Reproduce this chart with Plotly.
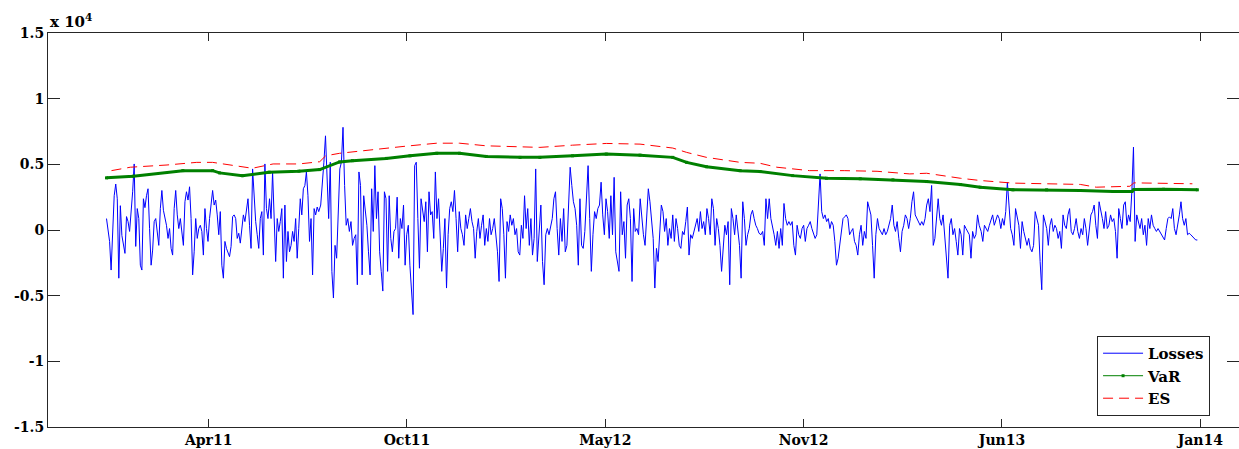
import pandas as pd
import plotly.graph_objects as go

# Daily portfolio losses, in blocks of consecutive trading periods
losses_dec10_jul11 = [
    870, -110, -870, -3050, 110, 2610, 3500, 2380, -3670, 1850, -420, -1170, -1780, 1020, 640, -110,
    1150, 2910, 5030, -1250, 1630, 870, -2680, -3050, 2380, 1700, 2610, 3140, 110, -2680, -1530, 640,
    870, -110, -1170, 1630, 3010, 1500, 870, 360, -640, 110, -1400, -1910, 1630, 3010, 1150, 110,
    870, -110, -1170, 2150, 2910, 2280, 3290, 870, -3420, -1660, 870, -640, 110, 360, -110, -1910,
    1630, 110, -870, 870, 2150, 3010, 1900, 2280, 1150, -360, 1400, -2680, -3670, -870, -1400, -1660,
    -2030, -1250, 1020, 1150, 870, -640, -250, -1000, 110, 1150, 640, 1400, 2380, 360, -1400, 4650,
    2380, 640, -360, -1400, 870, 1400, -1910, 5030, 1630, 870, 2380, 870, 4420, 1400, -2400, 870,
    -110, 640, 1630, -3670, 1900, -2400, -110, -1660, -1170, -110, -870, 870, -2150, 110, 2380, 1150,
    3140, 3390, 4420, 2610, -870, 870, -3420, 1630, 1150, 1750, 1400,
]
losses_jul11_mar12 = [
    1900, 3390, 5160, 7170, 3390, 870, 5160, -3150, -5180, -1170, -2150, 870, 4650, 5160, 7820, 3390,
    360, 870, -110, 640, -1170, -640, -360, -4170, 4420, 3390, -3420, 2610, 1400, 360, -1660, -3420,
    3140, -110, 4900, 870, 2910, -1660, -3150, -4650, 2910, 2380, -3150, 2610, -640, -1660, -110, 110,
    2500, -2150, 870, 110, 1900, -2680, -360, 360, -2680, -4420, -6440, 4900, 5160, 870, -2910, 2380,
    1630, 640, 2150, -1660, 2910, 1150, 1400, -640, 4420, 870, 2380, 110, -3150, -1400, 870, -4420,
    -360, 1630, 2150, 1400, 3010, 870, -1660, 1400, 110, -360, -1170, 1150, 110, 870, 1630, 640,
    110, -2150, -110, 870, -640, 360, 1150, -1170, 110, -870, 870, -360, 110, 870, -640, -1660,
    -3920, 2380, 1630, -360, -3670, 640, -110, 1150, 360, 870, -360, 110, -1660, -1910, 360, -640,
    2610, 110, 1630, -1170, 870, -1910, -640, 4650, -2400, -640,
]
losses_mar12_oct12 = [
    1900, -2400, -4170, -360, 110, -360, 360, 870, 2380, 2910, 110, -1910, 870, -870, 1630, -1660,
    -1170, 2610, 4780, 3390, 2150, 1630, 360, -2680, 2380, -1170, -1400, -110, 2610, 4900, 870, -3150,
    -360, 1400, 870, 1630, 1900, 3640, 1150, -360, 2380, 1400, -640, 2610, -360, 4010, -1660, -2400,
    -3150, 2910, -360, 640, -2150, 1900, 2380, 870, -3920, 1630, -110, 110, -360, 2380, 640, -360,
    -1170, 1150, 3140, 2150, 360, -640, -4420, -1400, -2400, 360, 1900, 1400, -110, 870, -1170, 110,
    -640, 1150, -870, 870, 110, -1170, -1400, -110, -360, 640, 1750, -1910, -360, -640, -110, 360,
    870, -110, 1400, 110, 640, -360, 1630, 870, -360, 2380, 1630, -1170, 870, 110, -1170, -3150,
    -870, 360, -360, 640, -4170, 1630, 870, -360, 1150, 110, -1170, -3670, 2150, 870, -1170, -360,
    110, 1150, 1500, 870, 360, 110, -250,
]
losses_oct12_may13 = [
    -360, -110, -1170, 2380, 870, 2380, 870, 360, -360, -1170, -110, -1400, 110, -1170, 2020, 870,
    360, 640, 360, 640, -1170, -1910, 360, -360, -640, 110, 360, -870, 110, 360, 640, 110,
    -360, -640, -360, 1900, 4270, 1400, 870, 1150, 640, 870, 110, 640, 360, -870, -2680, -2150,
    -1170, -360, 870, 1000, 1150, 870, -360, -110, 110, -870, -1170, -1910, -360, 360, -1170, -110,
    -640, 2150, 1630, 1150, -1170, -3670, -360, 870, 110, -110, -360, 110, -360, -110, 360, 870,
    1900, 360, -110, 640, -640, -1660, -110, 360, 1150, 870, 110, 870, 2150, 2910, 1150, 870,
    640, 360, 640, 360, 870, 1900, 2380, 1400, 3390, -1170, -640, 870, 2380, 870, 360, 1150,
    -360, -1910, -3670, 360, 870, -360, 110, -870, -1910, 110, -360, -1910, 360, 110, -110, -360,
    -2150, -110, -640, -360, 1150, 360,
]
losses_may13_dec13 = [
    -110, -870, 360, 110, -110, 360, 870, 1150, 360, 870, 1150, 870, 110, 870, 360, 1400,
    3640, 1900, 110, -360, -1170, 1630, 870, 360, -1400, 640, -110, -640, -1170, -640, -1400, -1660,
    -1170, 1400, 870, 360, -2400, -4550, 1150, 640, 110, -1170, 360, 870, -110, 360, 110, -640,
    -110, -1400, 1150, 360, 110, 1150, 1630, -110, -360, 110, 870, -110, -640, 110, -360, 870,
    110, -1170, -110, 1150, 1400, 1900, 360, -640, 2150, 1630, 870, 110, 1400, 110, 360, 1150,
    640, 870, -110, -2150, 1630, 870, 110, 1900, 2150, 360, 1150, 640, 2910, 6310, -870, 1150,
    640, 110, 870, -360, 360, -1170, 870, 110, 1150, 360, 110, -110, 110, -110, -360, -640,
    -760, 110, 870, 1000, 870, 1630, 110, -360, 360, 1150, 2150, 870, 360, 870, -360, -250,
    -360, -500, -640, -760, -760,
]
loss_blocks = [
    ("2010-12-25", "2011-07-27", losses_dec10_jul11),
    ("2011-07-29", "2012-03-05", losses_jul11_mar12),
    ("2012-03-07", "2012-10-13", losses_mar12_oct12),
    ("2012-10-15", "2013-05-23", losses_oct12_may13),
    ("2013-05-25", "2013-12-29", losses_may13_dec13),
]

# Rolling Value-at-Risk estimate
var_dates = [
    "2010-12-25", "2011-01-21", "2011-03-12", "2011-04-11", "2011-04-18", "2011-05-11", "2011-06-07",
    "2011-07-07", "2011-07-28", "2011-08-17", "2011-08-30", "2011-10-03", "2011-10-27", "2011-11-23",
    "2011-12-16", "2012-01-12", "2012-02-15", "2012-03-06", "2012-04-08", "2012-05-12", "2012-06-15",
    "2012-07-18", "2012-08-01", "2012-08-21", "2012-09-24", "2012-10-14", "2012-11-16", "2012-12-20",
    "2013-01-23", "2013-02-25", "2013-03-31", "2013-05-04", "2013-05-24", "2013-06-26", "2013-07-30",
    "2013-09-02", "2013-10-05", "2013-10-24", "2013-10-26", "2013-11-25", "2013-12-29",
]
var_values = [
    3970, 4100, 4520, 4520, 4350, 4140, 4400,
    4480, 4600, 5180, 5280, 5450, 5650, 5840,
    5840, 5600, 5530, 5530, 5650, 5780, 5700,
    5530, 5150, 4820, 4520, 4450, 4140, 3940,
    3900, 3820, 3690, 3460, 3260, 3060, 3060,
    3010, 2930, 2930, 3080, 3100, 3060,
]

# Rolling Expected Shortfall estimate
es_dates = [
    "2010-12-30", "2011-01-18", "2011-02-24", "2011-03-26", "2011-04-11", "2011-05-01", "2011-05-21",
    "2011-06-11", "2011-07-07", "2011-07-28", "2011-08-03", "2011-08-17", "2011-09-16", "2011-10-20",
    "2011-11-23", "2011-12-16", "2012-01-12", "2012-02-15", "2012-03-06", "2012-04-08", "2012-05-12",
    "2012-06-15", "2012-07-18", "2012-08-01", "2012-08-21", "2012-09-24", "2012-10-14", "2012-10-31",
    "2012-12-03", "2013-01-07", "2013-02-09", "2013-03-14", "2013-03-31", "2013-05-04", "2013-05-24",
    "2013-06-26", "2013-07-30", "2013-09-02", "2013-09-18", "2013-10-22", "2013-10-26", "2013-11-25",
    "2013-12-24",
]
es_values = [
    4520, 4780, 4950, 5150, 5150, 4900, 4700,
    5030, 5030, 5200, 5650, 5840, 6110, 6360,
    6610, 6610, 6410, 6340, 6290, 6460, 6590,
    6540, 6240, 5910, 5530, 5150, 5080, 4780,
    4520, 4520, 4470, 4270, 4320, 3940, 3770,
    3570, 3520, 3470, 3260, 3330, 3590, 3570,
    3520,
]

# Axis ticks (datetick every 200 days)
x_tick_dates = ["2011-04-07", "2011-10-24", "2012-05-11", "2012-11-27", "2013-06-15", "2014-01-01"]
x_tick_labels = ["Apr11", "Oct11", "May12", "Nov12", "Jun13", "Jan14"]
y_tick_values = [-15000, -10000, -5000, 0, 5000, 10000, 15000]
y_tick_labels = ["-1.5", "-1", "-0.5", "0", "0.5", "1", "1.5"]

loss_dates, losses = [], []
for start, end, block in loss_blocks:
    loss_dates.extend(pd.date_range(start, end, periods=len(block)))
    losses.extend(block)

SERIF = "DejaVu Serif"
AXIS = "#262626"

fig = go.Figure()
fig.add_trace(go.Scatter(
    x=loss_dates, y=losses, mode="lines", name="<b>Losses</b>",
    line=dict(color="#0000ff", width=1),
))
fig.add_trace(go.Scatter(
    x=var_dates, y=var_values, mode="lines", showlegend=False, hoverinfo="skip",
    line=dict(color="#008000", width=3),
))
fig.add_trace(go.Scatter(
    x=var_dates, y=var_values, mode="lines+markers", name="<b>VaR</b>",
    line=dict(color="#008000", width=1), marker=dict(size=3, color="#008000", symbol="square"),
))
fig.add_trace(go.Scatter(
    x=es_dates, y=es_values, mode="lines", name="<b>ES</b>",
    line=dict(color="#ff0000", width=1, dash="10px,6px"),
))

fig.update_layout(
    width=1239, height=449,
    margin=dict(l=48, r=0, t=33, b=22),
    paper_bgcolor="white", plot_bgcolor="white",
    font=dict(family=SERIF, size=14, color="black"),
    legend=dict(
        x=0.9757, y=0.028, xanchor="right", yanchor="bottom",
        bordercolor=AXIS, borderwidth=1, bgcolor="white",
        font=dict(family=SERIF, size=15, color="black"),
        tracegroupgap=0, itemwidth=40,
    ),
    annotations=[dict(
        xref="paper", yref="paper", x=0, y=1, xanchor="left", yanchor="bottom",
        text="<b>x 10<sup>4</sup></b>", showarrow=False,
        font=dict(family=SERIF, size=15, color="black"), yshift=0,
    )],
)
fig.update_xaxes(
    type="date", range=["2010-10-27", "2014-02-09"],
    tickmode="array", tickvals=x_tick_dates, ticktext=[f"<b>{t}</b>" for t in x_tick_labels],
    ticks="inside", ticklen=8, tickcolor=AXIS, tickwidth=1,
    showline=True, linecolor=AXIS, linewidth=1, mirror="ticks",
    showgrid=False, zeroline=False,
    tickfont=dict(family=SERIF, size=14, color="black"),
)
fig.update_yaxes(
    range=[-15000, 15000],
    tickmode="array", tickvals=y_tick_values, ticktext=[f"<b>{t}</b>" for t in y_tick_labels],
    ticks="inside", ticklen=12, tickcolor=AXIS, tickwidth=1,
    showline=True, linecolor=AXIS, linewidth=1, mirror="ticks",
    showgrid=False, zeroline=False,
    tickfont=dict(family=SERIF, size=14, color="black"),
)

fig.write_html("out.html")
